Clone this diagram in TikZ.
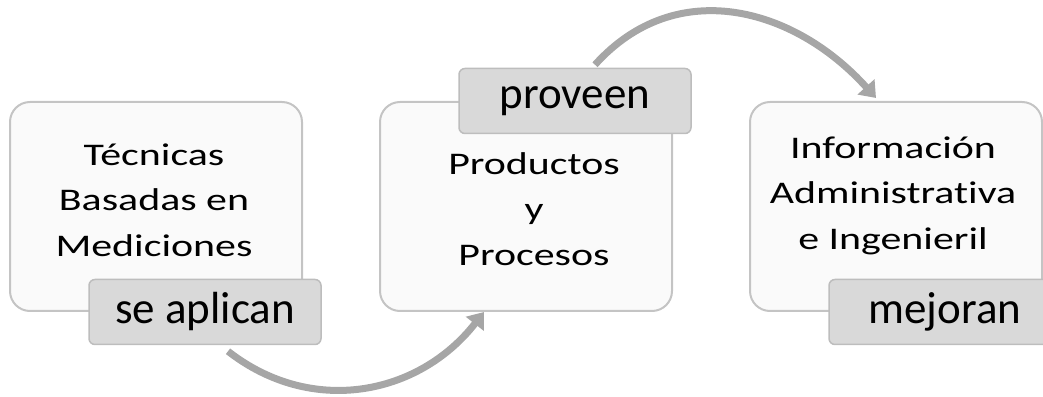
\documentclass[tikz,border=0pt]{standalone}
\usepackage{fontspec}
\setmainfont{Carlito}[RawFeature=-liga]
\newfontfamily\wideboxfont{Carlito}[FakeStretch=1.33, RawFeature=-liga]
\usetikzlibrary{positioning, arrows.meta}

\definecolor{boxline}{HTML}{C4C4C4}
\definecolor{boxfill}{HTML}{FAFAFA}
\definecolor{tagfill}{HTML}{D9D9D9}
\definecolor{tagline}{HTML}{BDBDBD}
\definecolor{flowgray}{HTML}{A6A6A6}

\tikzset{
  stage/.style={draw=boxline, fill=boxfill, line width=2pt, rounded corners=20pt,
    minimum width=292pt, minimum height=209pt, inner sep=0pt},
  stagetext/.style={align=center, font=\wideboxfont\fontsize{31.5}{45.5}\selectfont},
  tag/.style={draw=tagline, fill=tagfill, line width=1.5pt, rounded corners=6pt,
    minimum width=232pt, minimum height=65pt, font=\fontsize{45}{50}\selectfont},
  flow/.style={draw=flowgray, line width=7pt, -{Triangle[length=15pt,width=22pt]}},
}

\begin{document}
\begin{tikzpicture}[x=1pt, y=1pt]
    \clip (0,0) rectangle (1043,396);

    % Stages
    \node[stage] (tecnicas) at (156,189.5) {};
    \node[stage, right=76pt of tecnicas] (productos) {};
    \node[stage, right=76pt of productos] (informacion) {};

    \node[stagetext] (tecnicas text) at ([xshift=-2pt,yshift=6.5pt]tecnicas.center) {Técnicas\\Basadas en\\Mediciones};
    \node[stagetext] (productos text) at ([xshift=8pt,yshift=-2.5pt]productos.center) {Productos\\y\\Procesos};
    \node[stagetext] (informacion text) at ([xshift=-3pt,yshift=11pt]informacion.center) {Información\\Administrativa\\e Ingenieril};

    % Verbs on the corners
    \node[tag] (aplican) at ([xshift=-98pt]tecnicas.south east) {se aplican};
    \node[tag] (proveen) at ([xshift=-98pt]productos.north east) {proveen};
    \node[tag] (mejoran) at ([xshift=-98pt]informacion.south east) {mejoran};

    % Curved arrows
    \draw[flow] ([xshift=23pt,yshift=-6pt]aplican.south) to[out=-38, in=-128, looseness=1.05] ([xshift=-42pt]productos.south);
    \draw[flow] ([xshift=20pt,yshift=3pt]proveen.north) to[out=48, in=132, looseness=1.1] ([xshift=-20pt,yshift=3pt]informacion.north);
\end{tikzpicture}
\end{document}
